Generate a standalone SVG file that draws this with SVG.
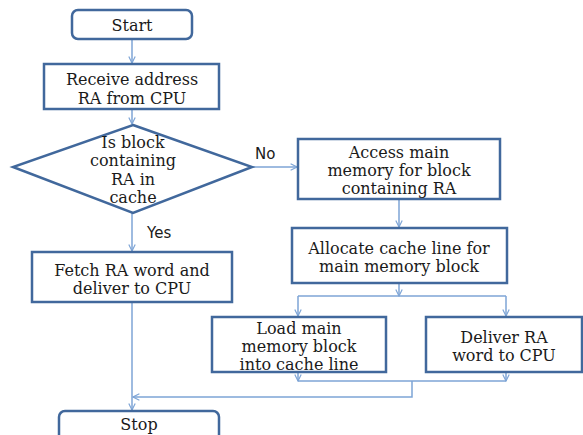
<svg xmlns="http://www.w3.org/2000/svg" width="583" height="435" viewBox="0 0 583 435">
<defs>
<style>
.box{fill:#fff;stroke:#41689c;stroke-width:2.5}
text.t{font-family:'DejaVu Serif',serif;font-size:16px;fill:#1a1a1a;text-anchor:middle}
text.lbl{font-family:'DejaVu Sans',sans-serif;font-size:15px;fill:#1a1a1a}
.c{fill:none;stroke:#7ea5d6;stroke-width:1.5}
</style>
<marker id="ah" viewBox="0 0 10 10" refX="9" refY="5" markerWidth="8" markerHeight="8" markerUnits="userSpaceOnUse" orient="auto">
<path d="M1,1 L9,5 L1,9" fill="none" stroke="#7ea5d6" stroke-width="1.5"/>
</marker>
</defs>
<rect width="583" height="435" fill="#fff"/>
<g id="connectors">
<path class="c" d="M132,39 V63" marker-end="url(#ah)"/>
<path class="c" d="M132,109 V124" marker-end="url(#ah)"/>
<path class="c" d="M252,167 H297" marker-end="url(#ah)"/>
<path class="c" d="M132,213 V251" marker-end="url(#ah)"/>
<path class="c" d="M399,199 V227" marker-end="url(#ah)"/>
<path class="c" d="M399,283 V296" marker-end="url(#ah)"/>
<path class="c" d="M298,296 H506"/>
<path class="c" d="M298,296 V316" marker-end="url(#ah)"/>
<path class="c" d="M506,296 V316" marker-end="url(#ah)"/>
<path class="c" d="M298,372 V381" marker-end="url(#ah)"/>
<path class="c" d="M506,372 V381" marker-end="url(#ah)"/>
<path class="c" d="M298,381 H506"/>
<path class="c" d="M412,381 V397 H133" marker-end="url(#ah)"/>
<path class="c" d="M132,302 V410" marker-end="url(#ah)"/>
<text class="lbl" x="255" y="159">No</text>
<text class="lbl" x="147" y="238">Yes</text>
</g>
<g id="start">
<rect class="box" x="72" y="10" width="120" height="29" rx="6"/>
<text class="t" x="132" y="31">Start</text>
</g>
<g id="receive">
<rect class="box" x="44" y="64" width="175" height="45"/>
<text class="t" x="132" y="85">Receive address</text>
<text class="t" x="132" y="104">RA from CPU</text>
</g>
<g id="decision">
<polygon class="box" points="133,125 252,167 133,213 13,167"/>
<text class="t" x="133" y="148">Is block</text>
<text class="t" x="133" y="166">containing</text>
<text class="t" x="133" y="185">RA in</text>
<text class="t" x="133" y="203">cache</text>
</g>
<g id="access">
<rect class="box" x="298" y="139" width="202" height="60"/>
<text class="t" x="399" y="158">Access main</text>
<text class="t" x="399" y="176">memory for block</text>
<text class="t" x="399" y="194">containing RA</text>
</g>
<g id="allocate">
<rect class="box" x="292" y="228" width="215" height="55"/>
<text class="t" x="399" y="254">Allocate cache line for</text>
<text class="t" x="399" y="272">main memory block</text>
</g>
<g id="fetch">
<rect class="box" x="32" y="252" width="200" height="50"/>
<text class="t" x="132" y="276">Fetch RA word and</text>
<text class="t" x="132" y="294">deliver to CPU</text>
</g>
<g id="load">
<rect class="box" x="212" y="317" width="174" height="55"/>
<text class="t" x="299" y="334">Load main</text>
<text class="t" x="299" y="352">memory block</text>
<text class="t" x="299" y="370">into cache line</text>
</g>
<g id="deliver">
<rect class="box" x="426" y="317" width="156" height="55"/>
<text class="t" x="504" y="343">Deliver RA</text>
<text class="t" x="504" y="361">word to CPU</text>
</g>
<g id="stop">
<rect class="box" x="59" y="411" width="160" height="34" rx="6"/>
<text class="t" x="139" y="430">Stop</text>
</g>
</svg>
